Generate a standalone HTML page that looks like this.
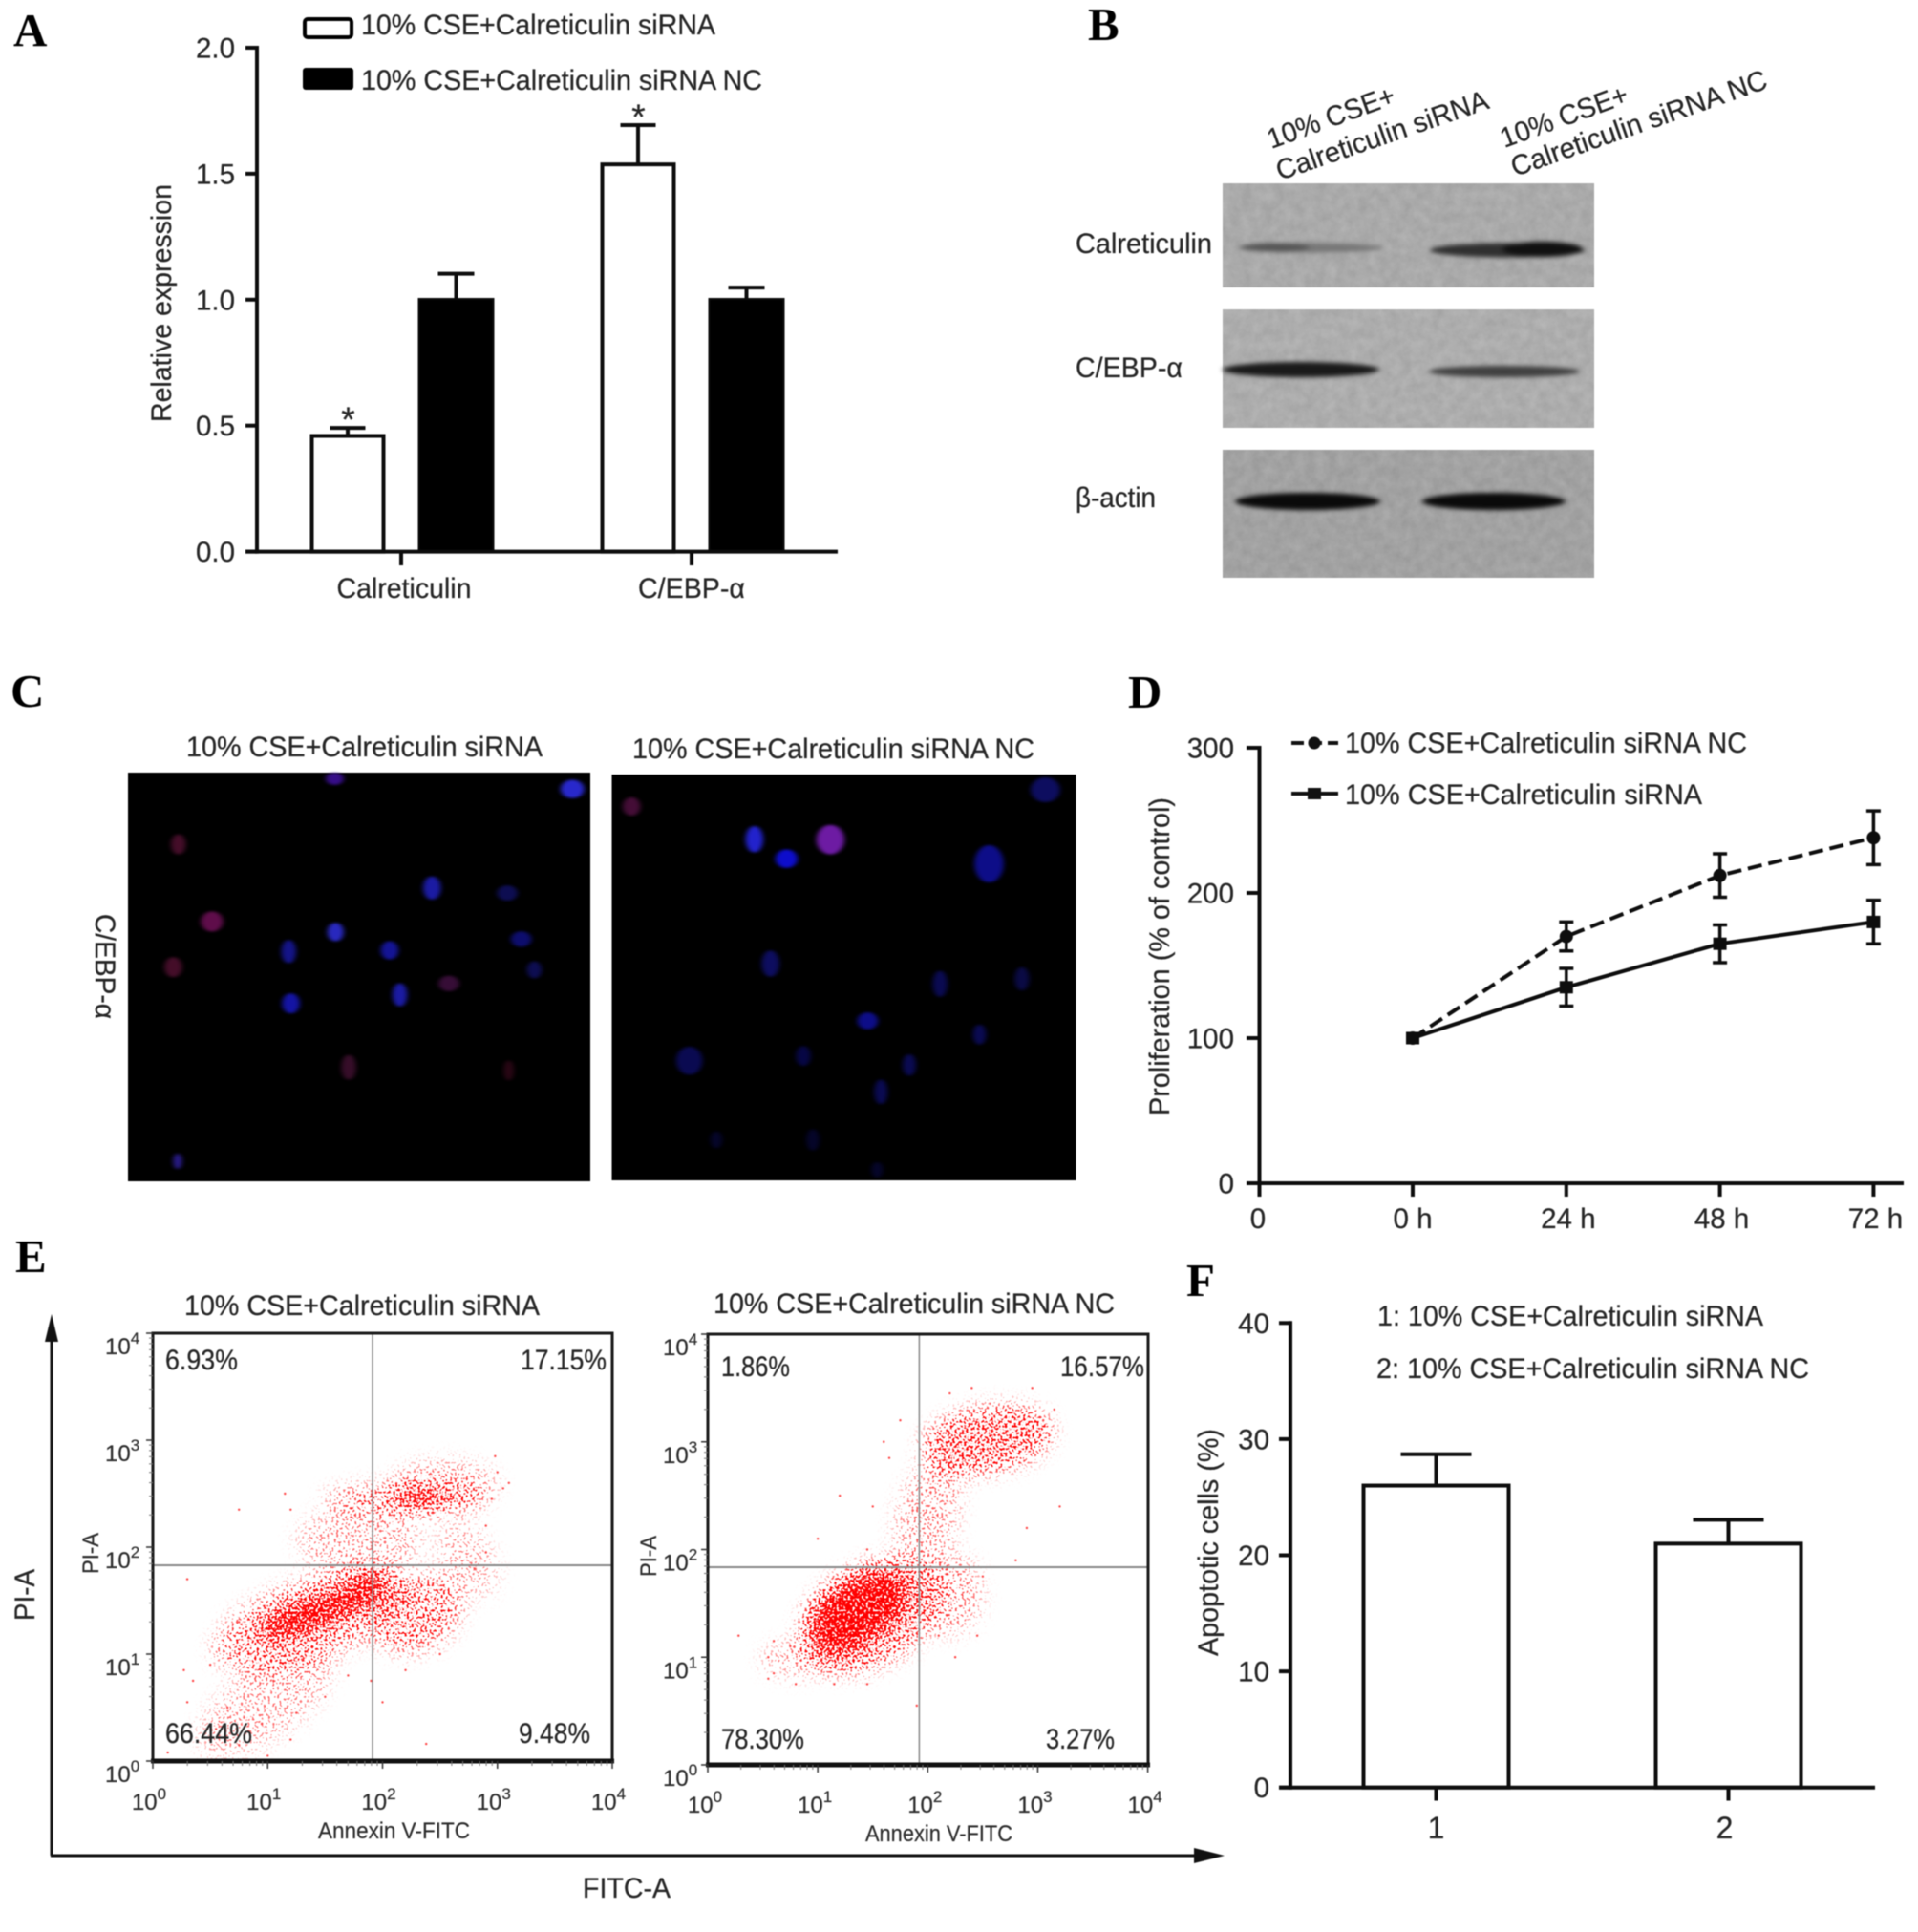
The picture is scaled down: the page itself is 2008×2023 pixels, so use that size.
<!DOCTYPE html>
<html lang="en">
<head>
<meta charset="utf-8">
<title>Calreticulin siRNA multi-panel figure</title>
<style>
html,body{margin:0;padding:0;background:#fff;width:2008px;height:2023px;overflow:hidden}
svg{display:block;filter:blur(.6px)}
.t{font-family:"Liberation Sans",sans-serif;font-size:29.5px;fill:#262626;stroke:#262626;stroke-width:.25px}
.s{font-family:"Liberation Sans",sans-serif;font-size:24px;fill:#2c2c2c;stroke:#2c2c2c;stroke-width:.2px}
.pl{font-family:"Liberation Serif",serif;font-weight:bold;font-size:49px;fill:#000}
</style>
</head>
<body>
<svg id="fig" xmlns="http://www.w3.org/2000/svg" width="2008" height="2023" viewBox="0 0 2008 2023">
<defs>
<filter id="bandBlur" filterUnits="userSpaceOnUse" x="1270" y="180" width="410" height="430" color-interpolation-filters="sRGB"><feGaussianBlur stdDeviation="3 2.4"/></filter>
<filter id="blotTexture" x="0" y="0" width="100%" height="100%" color-interpolation-filters="sRGB">
<feTurbulence type="fractalNoise" baseFrequency="0.09" numOctaves="3" seed="8" result="n"/>
<feColorMatrix in="n" type="matrix" values="0 0 0 1 0  0 0 0 1 0  0 0 0 1 0  0 0 0 0 1" result="g"/>
<feComposite in="SourceGraphic" in2="g" operator="arithmetic" k1="0" k2="1" k3="0.09" k4="-0.045"/>
</filter>
<filter id="cellBlur" filterUnits="userSpaceOnUse" x="0" y="0" width="2000" height="2000" color-interpolation-filters="sRGB"><feGaussianBlur stdDeviation="3.5"/></filter>
<filter id="speckle" filterUnits="userSpaceOnUse" x="150" y="1390" width="1060" height="470" color-interpolation-filters="sRGB">
<feGaussianBlur in="SourceGraphic" stdDeviation="10" result="blob"/>
<feTurbulence type="fractalNoise" baseFrequency="0.42" numOctaves="1" seed="3" result="n"/>
<feColorMatrix in="n" type="matrix" values="0 0 0 0 1  0 0 0 0 0  0 0 0 0 0  0 0 0 3.5 -1.25" result="dots"/>
<feComposite in="blob" in2="dots" operator="arithmetic" k1="0" k2="3" k3="3" k4="-3"/>
</filter>
<clipPath id="clipE1"><rect x="160" y="1396" width="481" height="448"/></clipPath>
<clipPath id="clipE2"><rect x="741" y="1397" width="461" height="451"/></clipPath>
</defs>

<rect x="0" y="0" width="2008" height="2023" fill="#fff"/>

<!-- Panel letters -->
<text class="pl" x="14" y="48">A</text>
<text class="pl" x="1139" y="42">B</text>
<text class="pl" x="11" y="740">C</text>
<text class="pl" x="1181" y="741">D</text>
<text class="pl" x="16" y="1332">E</text>
<text class="pl" x="1242" y="1357">F</text>

<!-- Panel A static text -->
<g id="panelA">
<rect x="319" y="20" width="49" height="19" rx="3" fill="#fff" stroke="#000" stroke-width="4"/>
<rect x="317" y="71" width="53" height="23" rx="3" fill="#000"/>
<text class="t" x="378" y="36" textLength="371" lengthAdjust="spacingAndGlyphs">10% CSE+Calreticulin siRNA</text>
<text class="t" x="378" y="94" textLength="420" lengthAdjust="spacingAndGlyphs">10% CSE+Calreticulin siRNA NC</text>
<text class="t" x="179" y="442" transform="rotate(-90 179 442)" textLength="249" lengthAdjust="spacingAndGlyphs">Relative expression</text>
</g>

<!-- Panel B western blot -->
<g>
<text class="t" x="1331" y="156" transform="rotate(-20 1331 156)" textLength="140" lengthAdjust="spacingAndGlyphs">10% CSE+</text>
<text class="t" x="1340" y="189" transform="rotate(-19 1340 189)" textLength="233" lengthAdjust="spacingAndGlyphs">Calreticulin siRNA</text>
<text class="t" x="1575" y="155" transform="rotate(-20 1575 155)" textLength="140" lengthAdjust="spacingAndGlyphs">10% CSE+</text>
<text class="t" x="1586" y="185" transform="rotate(-19.3 1586 185)" textLength="282" lengthAdjust="spacingAndGlyphs">Calreticulin siRNA NC</text>
<text class="t" x="1126" y="265" textLength="143" lengthAdjust="spacingAndGlyphs">Calreticulin</text>
<text class="t" x="1126" y="395" textLength="112" lengthAdjust="spacingAndGlyphs">C/EBP-α</text>
<text class="t" x="1126" y="531" textLength="84" lengthAdjust="spacingAndGlyphs">β-actin</text>
<rect x="1280" y="192" width="389" height="109" fill="#aaaaaa" filter="url(#blotTexture)"/>
<rect x="1280" y="324" width="389" height="124" fill="#adadad" filter="url(#blotTexture)"/>
<rect x="1280" y="471" width="389" height="134" fill="#a2a2a2" filter="url(#blotTexture)"/>
<g filter="url(#bandBlur)">
<ellipse cx="1372" cy="259.5" rx="76" ry="5" fill="#777"/>
<ellipse cx="1335" cy="259" rx="36" ry="4.5" fill="#555"/>
<ellipse cx="1578" cy="262" rx="81" ry="7.5" fill="#303030"/>
<ellipse cx="1615" cy="261" rx="42" ry="8" fill="#111"/>
<ellipse cx="1362" cy="387" rx="82" ry="8" fill="#1a1a1a"/>
<ellipse cx="1575" cy="389" rx="79" ry="6" fill="#404040"/>
<ellipse cx="1369" cy="525" rx="76" ry="9" fill="#0a0a0a"/>
<ellipse cx="1564" cy="525" rx="75" ry="9" fill="#0a0a0a"/>
</g>
</g>

<!-- Panel C immunofluorescence -->
<g>
<text class="t" x="195" y="792" textLength="373" lengthAdjust="spacingAndGlyphs">10% CSE+Calreticulin siRNA</text>
<text class="t" x="662" y="794" textLength="421" lengthAdjust="spacingAndGlyphs">10% CSE+Calreticulin siRNA NC</text>
<text class="t" x="100" y="957" transform="rotate(90 100 957)" textLength="110" lengthAdjust="spacingAndGlyphs">C/EBP-α</text>
<rect x="134" y="809" width="484" height="428" fill="#000"/>
<rect x="640.5" y="811" width="486" height="425" fill="#000"/>
<g transform="translate(0,680) scale(0.7653,0.4082)" filter="url(#cellBlur)" opacity="0.85">
<ellipse cx="458" cy="332" rx="12" ry="16" fill="#4010a0"/>
<ellipse cx="783" cy="358" rx="16" ry="24" fill="#3030f0"/>
<ellipse cx="244" cy="500" rx="10" ry="26" fill="#501030"/>
<ellipse cx="591" cy="612" rx="12" ry="30" fill="#2020c0"/>
<ellipse cx="694" cy="625" rx="14" ry="20" fill="#101060"/>
<ellipse cx="290" cy="698" rx="15" ry="26" fill="#701058"/>
<ellipse cx="459" cy="725" rx="11" ry="24" fill="#3030e0"/>
<ellipse cx="395" cy="775" rx="10" ry="30" fill="#1818a0"/>
<ellipse cx="533" cy="772" rx="12" ry="24" fill="#1818b0"/>
<ellipse cx="713" cy="743" rx="14" ry="20" fill="#101080"/>
<ellipse cx="731" cy="822" rx="10" ry="22" fill="#101060"/>
<ellipse cx="237" cy="815" rx="12" ry="26" fill="#501030"/>
<ellipse cx="614" cy="857" rx="14" ry="20" fill="#401040"/>
<ellipse cx="547" cy="886" rx="10" ry="30" fill="#2020c0"/>
<ellipse cx="398" cy="908" rx="12" ry="26" fill="#1818c0"/>
<ellipse cx="477" cy="1072" rx="10" ry="32" fill="#401030"/>
<ellipse cx="696" cy="1080" rx="7" ry="26" fill="#300818"/>
<ellipse cx="243" cy="1313" rx="6" ry="20" fill="#3020a0"/>
<ellipse cx="864" cy="403" rx="12" ry="24" fill="#501040"/>
<ellipse cx="1430" cy="360" rx="20" ry="32" fill="#101070"/>
<ellipse cx="1032" cy="487" rx="12" ry="34" fill="#2828f0"/>
<ellipse cx="1076" cy="537" rx="15" ry="24" fill="#1010f0"/>
<ellipse cx="1136" cy="488" rx="19" ry="38" fill="#8020c0"/>
<ellipse cx="1353" cy="550" rx="20" ry="48" fill="#1010a0"/>
<ellipse cx="1054" cy="806" rx="12" ry="34" fill="#101070"/>
<ellipse cx="1286" cy="858" rx="10" ry="34" fill="#0c0c60"/>
<ellipse cx="1398" cy="845" rx="10" ry="30" fill="#0c0c50"/>
<ellipse cx="1187" cy="953" rx="14" ry="22" fill="#1010a0"/>
<ellipse cx="1340" cy="988" rx="9" ry="26" fill="#0c0c60"/>
<ellipse cx="943" cy="1055" rx="18" ry="36" fill="#0c0c60"/>
<ellipse cx="1099" cy="1043" rx="10" ry="26" fill="#080850"/>
<ellipse cx="1244" cy="1066" rx="9" ry="28" fill="#0c0c60"/>
<ellipse cx="1205" cy="1135" rx="9" ry="32" fill="#0c0c60"/>
<ellipse cx="980" cy="1258" rx="8" ry="22" fill="#060630"/>
<ellipse cx="1112" cy="1258" rx="9" ry="28" fill="#060630"/>
<ellipse cx="1200" cy="1335" rx="8" ry="20" fill="#060630"/>
</g>
</g>

<!-- Panel D static text -->
<g id="panelD">
<text class="t" x="1408" y="788" textLength="421" lengthAdjust="spacingAndGlyphs">10% CSE+Calreticulin siRNA NC</text>
<text class="t" x="1408" y="842" textLength="374" lengthAdjust="spacingAndGlyphs">10% CSE+Calreticulin siRNA</text>
<text class="t" x="1224" y="1168" transform="rotate(-90 1224 1168)" textLength="333" lengthAdjust="spacingAndGlyphs">Proliferation (% of control)</text>
<line x1="1352" y1="778" x2="1401" y2="778" stroke="#111" stroke-width="4" stroke-dasharray="13 6"/>
<circle cx="1376" cy="778" r="6.5" fill="#111"/>
<line x1="1352" y1="831" x2="1401" y2="831" stroke="#111" stroke-width="4"/>
<rect x="1369" y="825" width="14" height="12" fill="#111"/>
</g>

<!-- Panel E static -->
<g id="panelE">
<text class="t" x="193" y="1377" textLength="372" lengthAdjust="spacingAndGlyphs">10% CSE+Calreticulin siRNA</text>
<text class="t" x="747" y="1375" textLength="420" lengthAdjust="spacingAndGlyphs">10% CSE+Calreticulin siRNA NC</text>
<g id="scatterE1" clip-path="url(#clipE1)"></g>
<g id="scatterE2" clip-path="url(#clipE2)"></g>
<line x1="390" y1="1396" x2="390" y2="1844" stroke="#888" stroke-width="1.5"/>
<line x1="160" y1="1639" x2="641" y2="1639" stroke="#888" stroke-width="2"/>
<line x1="962.4" y1="1397" x2="962.4" y2="1848" stroke="#888" stroke-width="1.5"/>
<line x1="741" y1="1641" x2="1202" y2="1641" stroke="#888" stroke-width="2"/>
<path d="M160 1396H641V1844H160Z" fill="none" stroke="#1a1a1a" stroke-width="3"/>
<line x1="158" y1="1844" x2="643" y2="1844" stroke="#111" stroke-width="5"/>
<path d="M741 1397H1202V1848H741Z" fill="none" stroke="#1a1a1a" stroke-width="3"/>
<line x1="739" y1="1848" x2="1204" y2="1848" stroke="#111" stroke-width="5"/>
<text class="t" x="173" y="1434" textLength="76" lengthAdjust="spacingAndGlyphs">6.93%</text>
<text class="t" x="545" y="1434" textLength="90" lengthAdjust="spacingAndGlyphs">17.15%</text>
<text class="t" x="173" y="1825" textLength="91" lengthAdjust="spacingAndGlyphs">66.44%</text>
<text class="t" x="543" y="1825" textLength="75" lengthAdjust="spacingAndGlyphs">9.48%</text>
<text class="t" x="755" y="1441" textLength="72" lengthAdjust="spacingAndGlyphs">1.86%</text>
<text class="t" x="1110" y="1441" textLength="88" lengthAdjust="spacingAndGlyphs">16.57%</text>
<text class="t" x="755" y="1831" textLength="87" lengthAdjust="spacingAndGlyphs">78.30%</text>
<text class="t" x="1095" y="1831" textLength="72" lengthAdjust="spacingAndGlyphs">3.27%</text>
<text class="s" x="333" y="1925" textLength="159" lengthAdjust="spacingAndGlyphs">Annexin V-FITC</text>
<text class="s" x="906" y="1928" textLength="154" lengthAdjust="spacingAndGlyphs">Annexin V-FITC</text>
<text class="s" x="103" y="1648" transform="rotate(-90 103 1648)" textLength="43" lengthAdjust="spacingAndGlyphs">PI-A</text>
<text class="s" x="687" y="1651" transform="rotate(-90 687 1651)" textLength="43" lengthAdjust="spacingAndGlyphs">PI-A</text>
<line x1="54" y1="1943" x2="54" y2="1400" stroke="#111" stroke-width="3"/>
<polygon points="54,1376 47,1405 61,1405" fill="#111"/>
<line x1="53" y1="1943" x2="1255" y2="1943" stroke="#111" stroke-width="3"/>
<polygon points="1282,1943 1250,1935 1250,1951" fill="#111"/>
<text class="t" x="36" y="1697" transform="rotate(-90 36 1697)" textLength="54" lengthAdjust="spacingAndGlyphs">PI-A</text>
<text class="t" x="610" y="1987" textLength="92" lengthAdjust="spacingAndGlyphs">FITC-A</text>
</g>

<!-- Panel F static -->
<g id="panelF">
<text class="t" x="1442" y="1388" textLength="404" lengthAdjust="spacingAndGlyphs">1: 10% CSE+Calreticulin siRNA</text>
<text class="t" x="1441" y="1443" textLength="453" lengthAdjust="spacingAndGlyphs">2: 10% CSE+Calreticulin siRNA NC</text>
<text class="t" x="1275" y="1734" transform="rotate(-90 1275 1734)" textLength="238" lengthAdjust="spacingAndGlyphs">Apoptotic cells (%)</text>
</g>

<script>
// ---------- Panel A data ----------
const aCategories = ['Calreticulin', 'C/EBP-α'];
const aSirnaValues = [0.459, 1.537];
const aSirnaErrors = [0.032, 0.156];
const aNcValues = [1.003, 1.003];
const aNcErrors = [0.100, 0.045];
const aTickLabels = ['0.0', '0.5', '1.0', '1.5', '2.0'];
const aTickValues = [0, 0.5, 1, 1.5, 2];
const aStars = ['*', '*'];

// ---------- Panel D data ----------
const dCategories = ['0 h', '24 h', '48 h', '72 h'];
const dNcValues = [100, 170, 212, 238];
const dNcErrors = [0, 10, 15, 18.5];
const dSirnaValues = [100, 135, 165, 180];
const dSirnaErrors = [0, 13, 13, 15];
const dTickValues = [0, 100, 200, 300];

// ---------- Panel E data (log10 decades) ----------
const eDecades = [0, 1, 2, 3, 4];
// [log10 x, log10 y, x spread, y spread, tilt deg, density]
const e1Regions = [
  [1.38, 1.32, 0.90, 0.38, -20, 0.34],
  [1.48, 1.42, 0.52, 0.12, -18, 1.0],
  [1.25, 1.30, 0.36, 0.11, -15, 0.9],
  [1.85, 1.62, 0.20, 0.12, -30, 0.9],
  [2.30, 1.38, 0.42, 0.34, -30, 0.36],
  [2.20, 2.45, 0.72, 0.13, 0, 0.36],
  [2.34, 2.45, 0.26, 0.06, 0, 1.0],
  [1.80, 2.06, 0.55, 0.30, 0, 0.2],
  [2.54, 2.60, 0.46, 0.20, 0, 0.24],
  [0.98, 0.54, 0.68, 0.32, -35, 0.2],
  [2.74, 1.89, 0.22, 0.38, -30, 0.18]
];
const e2Regions = [
  [1.47, 1.38, 0.70, 0.46, -30, 0.42],
  [1.38, 1.45, 0.48, 0.28, -30, 1.0],
  [1.25, 1.25, 0.28, 0.20, -30, 1.0],
  [2.54, 3.02, 0.60, 0.30, -10, 0.48],
  [2.00, 2.32, 0.28, 0.52, 15, 0.22],
  [2.21, 1.59, 0.28, 0.38, 0, 0.24],
  [0.80, 0.98, 0.32, 0.16, 0, 0.2]
];
const e1Strays = [[.13,.08],[.3,.55],[.35,.75],[.55,.3],[.75,.15],[1.0,.05],[.5,.9],[.65,.5],[.8,.7],[.95,.35],[1.2,.2],[1.05,.75],[.3,1.7],[.27,.85],[.75,2.35],[1.15,2.5],[1.2,2.35],[.75,1.3],[2.38,.16],[2.0,.55],[1.5,.6],[1.7,.8],[3.0,2.7],[2.98,2.85],[3.05,2.55],[2.95,2.45],[3.1,2.6],[2.9,2.2],[2.9,1.95],[2.8,1.8],[2.5,1.0],[2.2,.85],[1.9,.75],[1.3,.95],[1.25,.45],[.85,1.0]];
const e2Strays = [[.55,1.0],[.6,.85],[.55,.8],[.8,.75],[.75,1.1],[.28,1.2],[.6,1.15],[1.15,.75],[1.45,.75],[1.9,.55],[2.45,1.2],[3.2,2.4],[3.1,3.0],[3.05,3.2],[2.2,3.45],[2.4,3.5],[2.95,3.5],[3.15,3.3],[1.5,2.4],[1.45,2.0],[1.2,2.5],[1.0,2.1],[1.6,3.0],[1.65,2.85],[2.1,1.2],[2.5,1.75],[2.8,1.9],[2.9,2.2],[1.75,3.2],[2.25,1.0],[2.0,1.3],[1.5,1.9]];

// ---------- Panel F data ----------
const fCategories = ['1', '2'];
const fValues = [26, 21];
const fErrors = [2.7, 2.05];
const fTickValues = [0, 10, 20, 30, 40];

// ---------- helpers ----------
const NS = 'http://www.w3.org/2000/svg';
function add(parent, tag, attrs, content) {
  const el = document.createElementNS(NS, tag);
  for (const k in attrs) el.setAttribute(k, attrs[k]);
  if (content !== undefined) el.textContent = content;
  parent.appendChild(el);
  return el;
}
const panelA = document.getElementById('panelA');
const panelD = document.getElementById('panelD');
const panelE = document.getElementById('panelE');
const panelF = document.getElementById('panelF');
const INK = '#0d0d0d';

// ---------- Panel A ----------
const aY = v => 577.6 - v * 263.8;
const aX = i => 420 + i * 304;
aCategories.forEach((c, i) => {
  const cx = aX(i);
  const wx = cx - 93.5, bx = cx + 18.5;
  const e1 = add(panelA, 'path', { d: `M${wx + 37.5} ${aY(aSirnaValues[i])}V${aY(aSirnaValues[i] + aSirnaErrors[i])}M${wx + 19} ${aY(aSirnaValues[i] + aSirnaErrors[i])}h37`, stroke: INK, 'stroke-width': 4, fill: 'none' });
  
  
  const e2 = add(panelA, 'path', { d: `M${bx + 39} ${aY(aNcValues[i])}V${aY(aNcValues[i] + aNcErrors[i])}M${bx + 20} ${aY(aNcValues[i] + aNcErrors[i])}h38`, stroke: INK, 'stroke-width': 4, fill: 'none' });
  
  
  const b1 = add(panelA, 'rect', { x: wx, y: aY(aSirnaValues[i]), width: 75, height: aY(0) - aY(aSirnaValues[i]), fill: '#fff', stroke: INK, 'stroke-width': 4 });
  
  
  const b2 = add(panelA, 'rect', { x: bx, y: aY(aNcValues[i]), width: 78, height: aY(0) - aY(aNcValues[i]), fill: '#000', stroke: INK, 'stroke-width': 2 });
  
  
  const st = add(panelA, 'text', { class: 't', x: wx + 38, y: aY(aSirnaValues[i] + aSirnaErrors[i]) + 4, 'text-anchor': 'middle', style: 'font-size:37px' }, aStars[i]);
  
  
  const tk = add(panelA, 'line', { x1: cx, x2: cx, y1: aY(0), y2: 592, stroke: INK, 'stroke-width': 4 });
  
  
  const lb = add(panelA, 'text', { class: 't', x: cx + (i ? 0 : 3), y: 626, 'text-anchor': 'middle', textLength: i ? 112 : 141, lengthAdjust: 'spacingAndGlyphs' }, c);
  
  
});
const aAxisY = add(panelA, 'line', { x1: 269, x2: 269, y1: aY(2) - 2, y2: aY(0) + 2, stroke: INK, 'stroke-width': 4 });


const aAxisX = add(panelA, 'line', { x1: 257, x2: 877, y1: aY(0), y2: aY(0), stroke: INK, 'stroke-width': 4 });


aTickValues.forEach((v, i) => {
  const tk = add(panelA, 'line', { x1: 257, x2: 269, y1: aY(v), y2: aY(v), stroke: INK, 'stroke-width': 4 });
  
  
  const lb = add(panelA, 'text', { class: 't', x: 246, y: aY(v) + 10.5, 'text-anchor': 'end' }, aTickLabels[i]);
  
  
});

// ---------- Panel D ----------
const dY = v => 1239 - v * 1.52;
const dX = i => 1479 + i * 160.8;
const dZeroX = 1318.5;
const dAxisY = add(panelD, 'line', { x1: dZeroX, x2: dZeroX, y1: dY(300) - 2, y2: dY(0) + 14, stroke: INK, 'stroke-width': 4 });


const dAxisX = add(panelD, 'line', { x1: 1305, x2: 1993, y1: dY(0), y2: dY(0), stroke: INK, 'stroke-width': 4 });


dTickValues.forEach(v => {
  const tk = add(panelD, 'line', { x1: 1305, x2: dZeroX, y1: dY(v), y2: dY(v), stroke: INK, 'stroke-width': 4 });
  
  
  const lb = add(panelD, 'text', { class: 't', x: 1292, y: dY(v) + 10.5, 'text-anchor': 'end' }, String(v));
  
  
});
const dOrigin = add(panelD, 'text', { class: 't', x: 1317, y: 1286, 'text-anchor': 'middle' }, '0');


dCategories.forEach((c, i) => {
  const tk = add(panelD, 'line', { x1: dX(i), x2: dX(i), y1: dY(0), y2: 1253, stroke: INK, 'stroke-width': 4 });
  
  
  const lb = add(panelD, 'text', { class: 't', x: dX(i) + (i ? 2 : 0), y: 1286, 'text-anchor': 'middle' }, c);
  
  
});
const dLineNc = add(panelD, 'polyline', { points: dNcValues.map((v, i) => dX(i) + ',' + dY(v)).join(' '), fill: 'none', stroke: INK, 'stroke-width': 4, 'stroke-dasharray': '15 7' });


const dLineSi = add(panelD, 'polyline', { points: dSirnaValues.map((v, i) => dX(i) + ',' + dY(v)).join(' '), fill: 'none', stroke: INK, 'stroke-width': 4 });


dNcValues.forEach((v, i) => {
  const x = dX(i), e = dNcErrors[i];
  if (e > 0) {
    const eb = add(panelD, 'path', { d: `M${x} ${dY(v + e)}V${dY(v - e)}M${x - 7.5} ${dY(v + e)}h15M${x - 7.5} ${dY(v - e)}h15`, stroke: INK, 'stroke-width': 3.5, fill: 'none' });
    
    
  }
  const m = add(panelD, 'circle', { cx: x, cy: dY(v), r: 7, fill: INK });
  
  
});
dSirnaValues.forEach((v, i) => {
  const x = dX(i), e = dSirnaErrors[i];
  if (e > 0) {
    const eb = add(panelD, 'path', { d: `M${x} ${dY(v + e)}V${dY(v - e)}M${x - 7.5} ${dY(v + e)}h15M${x - 7.5} ${dY(v - e)}h15`, stroke: INK, 'stroke-width': 3.5, fill: 'none' });
    
    
  }
  const m = add(panelD, 'rect', { x: x - 7, y: dY(v) - 6.5, width: 14, height: 13, fill: INK });
  
  
});

// ---------- Panel E ----------
const e1X = d => 160 + d * 120.25;
const e1Y = d => 1844 - d * 112;
const e2X = d => 741 + d * 115.15;
const e2Y = d => 1848 - d * 112.75;
function drawScatter(id, regions, strays, fx, fy) {
  const host = document.getElementById(id);
  const blobs = add(host, 'g', { filter: 'url(#speckle)' });
  
  
  regions.forEach(r => {
    const cx = fx(r[0]), cy = fy(r[1]);
    const rx = fx(r[2]) - fx(0), ry = fy(0) - fy(r[3]);
    const el = add(blobs, 'ellipse', { cx: cx, cy: cy, rx: rx, ry: ry, fill: '#ff0000', 'fill-opacity': r[5], transform: `rotate(${r[4]} ${cx} ${cy})` });
    
    
  });
  strays.forEach(p => {
    const el = add(host, 'circle', { cx: fx(p[0]), cy: fy(p[1]), r: 1.2, fill: '#f44' });
    
    
  });
}
drawScatter('scatterE1', e1Regions, e1Strays, e1X, e1Y);
drawScatter('scatterE2', e2Regions, e2Strays, e2X, e2Y);

function drawLogAxes(fx, fy, yLabelX, xLabelY, xOffset) {
  eDecades.forEach(d => {
    const ty = add(panelE, 'line', { x1: fx(0) - 7, x2: fx(0), y1: fy(d), y2: fy(d), stroke: '#333', 'stroke-width': 1.5 });
    
    
    const tx = add(panelE, 'line', { x1: fx(d), x2: fx(d), y1: fy(0), y2: fy(0) + 8, stroke: '#333', 'stroke-width': 1.5 });
    
    
    const ly = add(panelE, 'text', { class: 's', x: yLabelX, y: fy(d) + 22 }, '10');
    
    
    add(ly, 'tspan', { dy: -11, 'font-size': 17 }, String(d));
    const lx = add(panelE, 'text', { class: 's', x: fx(d) + xOffset, y: xLabelY, 'text-anchor': 'middle' }, '10');
    
    
    add(lx, 'tspan', { dy: -11, 'font-size': 17 }, String(d));
    if (d < 4) {
      for (let m = 2; m < 10; m++) {
        const md = d + Math.log10(m);
        const my = add(panelE, 'line', { x1: fx(0) - 4, x2: fx(0), y1: fy(md), y2: fy(md), stroke: '#777', 'stroke-width': 1 });
        
        
        const mx = add(panelE, 'line', { x1: fx(md), x2: fx(md), y1: fy(0), y2: fy(0) + 5, stroke: '#777', 'stroke-width': 1 });
        
        
      }
    }
  });
}
drawLogAxes(e1X, e1Y, 110, 1895, -4);
drawLogAxes(e2X, e2Y, 694, 1898, -3);

// ---------- Panel F ----------
const fY = v => 1871.7 - v * 12.16;
const fX = i => 1503.5 + i * 306;
fCategories.forEach((c, i) => {
  const cx = fX(i), v = fValues[i], e = fErrors[i];
  const eb = add(panelF, 'path', { d: `M${cx} ${fY(v)}V${fY(v + e)}M${cx - 37} ${fY(v + e)}h74`, stroke: INK, 'stroke-width': 4, fill: 'none' });
  
  
  const b = add(panelF, 'rect', { x: cx - 76, y: fY(v), width: 152, height: fY(0) - fY(v), fill: '#fff', stroke: INK, 'stroke-width': 4 });
  
  
  const tk = add(panelF, 'line', { x1: cx, x2: cx, y1: fY(0), y2: 1885.5, stroke: INK, 'stroke-width': 4 });
  
  
  const lb = add(panelF, 'text', { class: 't', x: cx - (i ? 4 : 0), y: 1925, 'text-anchor': 'middle', style: 'font-size:32px' }, c);
  
  
});
const fAxisY = add(panelF, 'line', { x1: 1351, x2: 1351, y1: fY(40) - 2, y2: fY(0) + 2, stroke: INK, 'stroke-width': 4 });


const fAxisX = add(panelF, 'line', { x1: 1339, x2: 1963, y1: fY(0), y2: fY(0), stroke: INK, 'stroke-width': 4 });


fTickValues.forEach(v => {
  const tk = add(panelF, 'line', { x1: 1339, x2: 1351, y1: fY(v), y2: fY(v), stroke: INK, 'stroke-width': 4 });
  
  
  const lb = add(panelF, 'text', { class: 't', x: 1329, y: fY(v) + 10.5, 'text-anchor': 'end' }, String(v));
  
  
});
</script>
</svg>
</body>
</html>
